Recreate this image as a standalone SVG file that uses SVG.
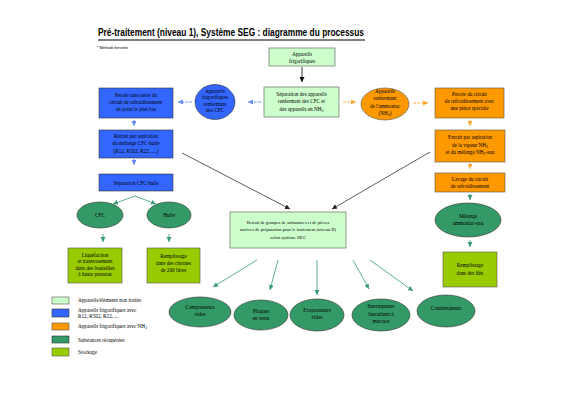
<svg xmlns="http://www.w3.org/2000/svg" width="566" height="400" viewBox="0 0 566 400">
<style>
text{font-family:"Liberation Serif","Times New Roman",serif;font-size:5.2px;fill:#000;text-anchor:middle}
.lg{text-anchor:start;font-size:5.2px}
.title{font-family:"Liberation Sans",Arial,sans-serif;font-weight:bold;font-size:10px;text-anchor:start}
.lgreen{fill:#ccffcc;stroke:#555;stroke-width:0.6}
.blue{fill:#3366ff;stroke:#333;stroke-width:0.6}
.orange{fill:#ff9900;stroke:#555;stroke-width:0.6}
.dgreen{fill:#339966;stroke:#333;stroke-width:0.6}
.ygreen{fill:#99cc00;stroke:#555;stroke-width:0.6}
.ablue{stroke:#7799ff;stroke-width:1;stroke-dasharray:3 1;fill:none}
.aor{stroke:#ffb347;stroke-width:1;stroke-dasharray:3 1;fill:none}
.agr{stroke:#4aa58a;stroke-width:0.9;fill:none}
.ablk{stroke:#333;stroke-width:0.8;fill:none}
</style>
<defs>
<marker id="mk" markerUnits="userSpaceOnUse" markerWidth="6" markerHeight="6" refX="5" refY="3" orient="auto"><path d="M0,0.5 L5,3 L0,5.5z" fill="#000"/></marker>
<marker id="mb" markerUnits="userSpaceOnUse" markerWidth="6" markerHeight="6" refX="5" refY="3" orient="auto"><path d="M0,0.5 L5,3 L0,5.5z" fill="#6688ff"/></marker>
<marker id="mo" markerUnits="userSpaceOnUse" markerWidth="6" markerHeight="6" refX="5" refY="3" orient="auto"><path d="M0,0.5 L5,3 L0,5.5z" fill="#ffa733"/></marker>
<marker id="mg" markerUnits="userSpaceOnUse" markerWidth="6" markerHeight="6" refX="5" refY="3" orient="auto"><path d="M0,0.5 L5,3 L0,5.5z" fill="#3a9a7c"/></marker>
<marker id="md" markerUnits="userSpaceOnUse" markerWidth="6" markerHeight="6" refX="5" refY="3" orient="auto"><path d="M0,0.5 L5,3 L0,5.5z" fill="#222"/></marker>
</defs>
<rect width="566" height="400" fill="#fff"/>

<text class="title" x="98" y="36" textLength="266" lengthAdjust="spacingAndGlyphs">Pré-traitement (niveau 1), Système SEG : diagramme du processus</text>
<line x1="98" y1="40" x2="365" y2="40" stroke="#000" stroke-width="1"/>
<text class="lg" x="97" y="49" style="font-size:3.6px;font-family:'Liberation Sans',Arial,sans-serif">* Méthode brevetée</text>

<g id="connectors">
<line class="ablk" x1="302" y1="67" x2="302" y2="82" marker-end="url(#mk)" style="stroke:#000"/>
<line class="ablue" x1="261" y1="102" x2="248" y2="102" marker-end="url(#mb)"/>
<line class="ablue" x1="192" y1="102" x2="178" y2="102" marker-end="url(#mb)"/>
<line class="aor" x1="343" y1="102" x2="356" y2="102" marker-end="url(#mo)"/>
<line class="aor" x1="413" y1="103" x2="428" y2="103" marker-end="url(#mo)"/>
<line class="ablue" x1="134" y1="120" x2="134" y2="126" marker-end="url(#mb)" style="stroke-dasharray:none"/>
<line class="ablue" x1="134" y1="159" x2="134" y2="165" marker-end="url(#mb)" style="stroke-dasharray:none"/>
<line class="aor" x1="470" y1="120" x2="470" y2="126" marker-end="url(#mo)" style="stroke-dasharray:none"/>
<line class="aor" x1="470" y1="163" x2="470" y2="169" marker-end="url(#mo)" style="stroke-dasharray:none"/>
<line class="agr" x1="470" y1="194" x2="470" y2="200" marker-end="url(#mg)"/>
<line class="agr" x1="470" y1="240" x2="470" y2="247" marker-end="url(#mg)"/>
<path class="agr" d="M135,196 L113,204" marker-end="url(#mg)"/>
<path class="agr" d="M135,196 L156,204" marker-end="url(#mg)"/>
<line class="agr" x1="103" y1="234" x2="103" y2="242" marker-end="url(#mg)"/>
<line class="agr" x1="169" y1="234" x2="169" y2="242" marker-end="url(#mg)"/>
<line class="ablk" x1="182" y1="153" x2="290" y2="209" marker-end="url(#md)"/>
<line class="ablk" x1="430" y1="152" x2="332" y2="209" marker-end="url(#md)"/>
<line class="agr" x1="257" y1="260" x2="213" y2="287" marker-end="url(#mg)"/>
<line class="agr" x1="278" y1="260" x2="270" y2="290" marker-end="url(#mg)"/>
<line class="agr" x1="317" y1="260" x2="317" y2="295" marker-end="url(#mg)"/>
<line class="agr" x1="353" y1="260" x2="369" y2="289" marker-end="url(#mg)"/>
<line class="agr" x1="370" y1="260" x2="413" y2="291" marker-end="url(#mg)"/>
</g>

<g id="n-app">
<rect class="lgreen" x="269" y="48" width="66" height="18"/>
<text x="302" y="56">Appareils</text>
<text x="302" y="62.5">frigorifiques</text>
</g>

<g id="n-sep">
<rect class="lgreen" x="264" y="87" width="75" height="30"/>
<text x="301.5" y="96">Séparation des appareils</text>
<text x="301.5" y="103">renfermant des CFC et</text>
<text x="301.5" y="110.5">des appareils en NH<tspan font-size="3.8" dy="1.2">3</tspan></text>
</g>

<g id="n-cfc-app">
<ellipse class="blue" cx="215" cy="102" rx="20" ry="17.5"/>
<text x="215" y="93">Appareils</text>
<text x="215" y="99">frigorifiques</text>
<text x="215" y="105.5">renfermant</text>
<text x="215" y="112">des CFC</text>
</g>

<g id="n-nh3-app">
<ellipse class="orange" cx="385" cy="104" rx="24" ry="16"/>
<text x="385" y="93">Appareils</text>
<text x="385" y="100">renfermant</text>
<text x="385" y="107.5">de l'ammoniac</text>
<text x="385" y="115">(NH<tspan font-size="3.8" dy="1.2">3</tspan><tspan dy="-1.2">)</tspan></text>
</g>

<g id="n-b1">
<rect class="blue" x="99" y="88" width="74" height="30"/>
<text x="136" y="96.5">Percée sans perte du</text>
<text x="136" y="103.5">circuit de refroidissement</text>
<text x="136" y="110.5">en point le plus bas</text>
</g>
<g id="n-b2">
<rect class="blue" x="99" y="130" width="74" height="28"/>
<text x="136" y="138">Retrait par aspiration</text>
<text x="136" y="145">du mélange CFC-huile</text>
<text x="136" y="152.5">(R12, R502, R22, ....)</text>
</g>
<g id="n-b3">
<rect class="blue" x="99" y="174" width="74" height="17"/>
<text x="136" y="184.5">Séparation CFC/huile</text>
</g>

<g id="n-o1">
<rect class="orange" x="435" y="88" width="69" height="30"/>
<text x="469.5" y="96">Percée du circuit</text>
<text x="469.5" y="103">de refroidissement avec</text>
<text x="469.5" y="110">une pince spéciale</text>
</g>
<g id="n-o2">
<rect class="orange" x="435" y="130" width="70" height="32"/>
<text x="470" y="139">Extrait par aspiration</text>
<text x="470" y="146.5">de la vapeur NH<tspan font-size="3.8" dy="1.2">3</tspan></text>
<text x="470" y="154">et du mélange NH<tspan font-size="3.8" dy="1.2">3</tspan><tspan dy="-1.2">-eau</tspan></text>
</g>
<g id="n-o3">
<rect class="orange" x="435" y="173" width="70" height="19"/>
<text x="470" y="181">Lavage du circuit</text>
<text x="470" y="188">de refroidissement</text>
</g>

<g id="n-mel">
<ellipse class="dgreen" cx="468" cy="220" rx="33" ry="17"/>
<text x="468" y="218">Mélange</text>
<text x="468" y="225">ammoniac-eau</text>
</g>
<g id="n-futs">
<rect class="ygreen" x="443" y="252" width="54" height="35"/>
<text x="470" y="267">Remplissage</text>
<text x="470" y="274.5">dans des fûts</text>
</g>

<g id="n-cfc">
<ellipse class="dgreen" cx="100" cy="215" rx="23" ry="13"/>
<text x="100" y="217">CFC</text>
</g>
<g id="n-huile">
<ellipse class="dgreen" cx="169" cy="215" rx="22" ry="13"/>
<text x="169" y="217">Huile</text>
</g>
<g id="n-liq">
<rect class="ygreen" x="68" y="248" width="54" height="35"/>
<text x="95" y="256.5">Liquéfaction</text>
<text x="95" y="263">et transvasement</text>
<text x="95" y="269.5">dans des bouteilles</text>
<text x="95" y="276">à haute pression</text>
</g>
<g id="n-cit">
<rect class="ygreen" x="147" y="248" width="53" height="35"/>
<text x="173.5" y="258">Remplissage</text>
<text x="173.5" y="265">dans des citernes</text>
<text x="173.5" y="272">de 200 litres</text>
</g>

<g id="n-center">
<rect class="lgreen" x="230" y="212" width="116" height="36"/>
<text x="288" y="223.5" style="font-size:4.6px">Retrait de groupes de substances et de pièces</text>
<text x="288" y="231" style="font-size:4.6px">nocives de préparation pour le traitement (niveau II)</text>
<text x="288" y="238.5" style="font-size:4.6px">selon système SEG</text>
</g>

<g id="n-comp">
<ellipse class="dgreen" cx="200" cy="312" rx="31" ry="15"/>
<text x="200" y="308.5">Compresseurs</text>
<text x="200" y="316">vides</text>
</g>
<g id="n-plaq">
<ellipse class="dgreen" cx="261" cy="315" rx="27" ry="15"/>
<text x="261" y="313">Plaques</text>
<text x="261" y="320">en verre</text>
</g>
<g id="n-evap">
<ellipse class="dgreen" cx="317" cy="315" rx="27" ry="16"/>
<text x="317" y="311.5">Evaporateurs</text>
<text x="317" y="319">vides</text>
</g>
<g id="n-inter">
<ellipse class="dgreen" cx="381" cy="315" rx="29" ry="16"/>
<text x="381" y="308">Interrupteurs</text>
<text x="381" y="315.5">basculants à</text>
<text x="381" y="323">mercure</text>
</g>
<g id="n-cond">
<ellipse class="dgreen" cx="446" cy="311" rx="29" ry="16"/>
<text x="446" y="310">Condensateurs</text>
</g>

<g id="legend">
<rect class="lgreen" x="52" y="297" width="17" height="7"/>
<text class="lg" x="78" y="302">Appareils/éléments non traités</text>
<rect class="blue" x="52" y="309" width="17" height="8"/>
<text class="lg" x="78" y="311.5">Appareils frigorifiques avec</text>
<text class="lg" x="78" y="317.5">R12, R502, R22, ...</text>
<rect class="orange" x="52" y="323" width="17" height="7"/>
<text class="lg" x="78" y="328">Appareils frigorifiques avec NH<tspan font-size="3.8" dy="1.2">3</tspan></text>
<rect class="dgreen" x="52" y="336" width="17" height="7"/>
<text class="lg" x="78" y="341.5">Substances récupérées</text>
<rect class="ygreen" x="52" y="348" width="17" height="8"/>
<text class="lg" x="78" y="354">Stockage</text>
</g>
</svg>
